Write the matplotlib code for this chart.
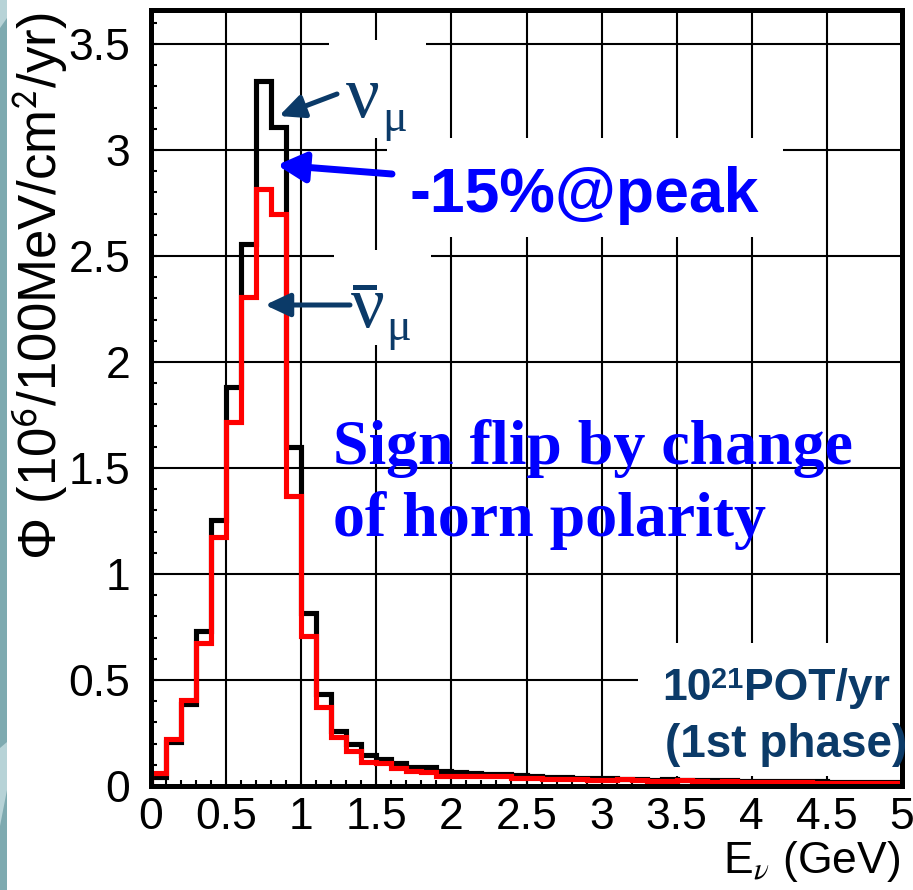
import numpy as np
import matplotlib
matplotlib.use("Agg")
import matplotlib.pyplot as plt
from matplotlib.patches import Rectangle, Polygon

# ---------------- data ----------------
bin_edges = np.round(np.arange(0, 5.0001, 0.1), 2)
numu = [0.044, 0.209, 0.387, 0.731, 1.255, 1.88, 2.556, 3.325, 3.11, 1.60,
        0.815, 0.434, 0.261, 0.198, 0.146, 0.127, 0.108, 0.091, 0.088, 0.072,
        0.067, 0.060, 0.058, 0.056, 0.050, 0.047, 0.044, 0.042, 0.040, 0.036,
        0.038, 0.034, 0.032, 0.030, 0.031, 0.029, 0.028, 0.027, 0.026, 0.025,
        0.025, 0.024, 0.023, 0.022, 0.022, 0.021, 0.020, 0.020, 0.019, 0.019]
anumu = [0.060, 0.222, 0.406, 0.673, 1.176, 1.715, 2.305, 2.816, 2.70, 1.368,
         0.706, 0.371, 0.233, 0.167, 0.115, 0.107, 0.083, 0.071, 0.065, 0.049,
         0.049, 0.047, 0.045, 0.048, 0.040, 0.037, 0.035, 0.032, 0.034, 0.030,
         0.029, 0.031, 0.027, 0.025, 0.024, 0.026, 0.022, 0.021, 0.024, 0.020,
         0.019, 0.018, 0.020, 0.017, 0.016, 0.016, 0.015, 0.015, 0.014, 0.014]
xticks = [0, 0.5, 1, 1.5, 2, 2.5, 3, 3.5, 4, 4.5, 5]
xticklabels = ["0", "0.5", "1", "1.5", "2", "2.5", "3", "3.5", "4", "4.5", "5"]
yticks = [0, 0.5, 1, 1.5, 2, 2.5, 3, 3.5]
yticklabels = ["0", "0.5", "1", "1.5", "2", "2.5", "3", "3.5"]

# ---------------- layout ----------------
plt.rcParams["mathtext.fontset"] = "stix"
SANS = ["Liberation Sans", "DejaVu Sans"]
SERIF = ["Liberation Serif", "DejaVu Serif"]
DARK = "#0b3a68"
BLUE = "#0000ff"

W, H = 913, 890
L, R, B, T = 151, 902, 786, 10
YS = 212.0  # pixels per unit on y
fig = plt.figure(figsize=(W / 100, H / 100), dpi=100)
fig.patch.set_facecolor("white")

# slide background strip on the left
fig.patches.append(Rectangle((0, 0), 7 / W, 1, transform=fig.transFigure,
                             facecolor="#7eaab0", edgecolor="none"))
fig.patches.append(Polygon([(0, 1), (7 / W, 1), (7 / W, 1 - 18 / H), (0, 1 - 28 / H)],
                           closed=True, transform=fig.transFigure,
                           facecolor="#b7d3d7", edgecolor="none"))
fig.patches.append(Polygon([(0, 1 - 748 / H), (7 / W, 1 - 742 / H), (7 / W, 1 - 790 / H), (0, 1 - 826 / H)],
                           closed=True, transform=fig.transFigure,
                           facecolor="#b7d3d7", edgecolor="none"))

ax = fig.add_axes([L / W, 1 - B / H, (R - L) / W, (B - T) / H])
ax.set_xlim(0, 5)
ax.set_ylim(0, (B - T) / YS)


def P(px, py):
    """pixel position -> data coordinates (for annotations only)"""
    return ((px - L) / (R - L) * 5.0, (B - py) / YS)


ax.set_axisbelow(True)
ax.grid(True, which="major", color="black", lw=1.5)

# white boxes behind annotation texts (hide the grid there)
def wbox(px0, py0, px1, py1, color="white"):
    x0, y0 = P(px0, py1)
    x1, y1 = P(px1, py0)
    ax.add_patch(Rectangle((x0, y0), x1 - x0, y1 - y0, facecolor=color,
                           edgecolor="none", zorder=1))

wbox(329, 40, 426, 138)
wbox(387, 138, 783, 237)
wbox(334, 250, 431, 345)
wbox(638, 643, 905, 776)

# histograms
ax.stairs(numu, bin_edges, baseline=0, color="black", lw=3.7, zorder=2,
          joinstyle="miter")
ax.stairs(anumu, bin_edges, baseline=0, color="#ff0000", lw=3.7, zorder=2.1,
          joinstyle="miter")

# axes / ticks
for s in ax.spines.values():
    s.set_linewidth(3.6)
    s.set_zorder(3)
ax.set_xticks(xticks)
ax.set_xticklabels(xticklabels)
ax.set_yticks(yticks)
ax.set_yticklabels(yticklabels)
ax.set_xticks(np.arange(0, 5.0001, 0.1), minor=True)
ax.set_yticks(np.arange(0, 3.6001, 0.1), minor=True)
ax.tick_params(which="both", direction="in", top=False, right=False,
               width=1.5, length=4.5, color="black")
ax.tick_params(axis="x", which="major", pad=8, labelsize=32)
ax.tick_params(axis="y", which="major", pad=15, labelsize=32)
for lab in ax.get_xticklabels() + ax.get_yticklabels():
    lab.set_family(SANS)

# axis titles
fig.text(40 / W, 1 - 13 / H, r"Φ (10$^{\mathsf{6}}$/100MeV/cm$^{\mathsf{2}}$/yr)",
         rotation=90, ha="center", va="top", fontsize=38, family=SANS)
fig.text(900 / W, 1 - 873 / H, r"E$_{\nu}$ (GeV)", ha="right", va="baseline",
         fontsize=32, family=SANS)

# neutrino labels (upright Greek, serif)
ax.text(*P(346, 117), "ν", fontsize=54, color=DARK, family=SERIF,
        ha="left", va="baseline", zorder=4)
ax.text(*P(382, 131), "μ", fontsize=33, color=DARK, family=SERIF,
        ha="left", va="baseline", zorder=4)
ax.text(*P(351, 327), "ν", fontsize=54, color=DARK, family=SERIF,
        ha="left", va="baseline", zorder=4)
ax.text(*P(386, 340), "μ", fontsize=33, color=DARK, family=SERIF,
        ha="left", va="baseline", zorder=4)
bx0, by0 = P(353, 290)
bx1, by1 = P(377, 285)
ax.add_patch(Rectangle((bx0, by0), bx1 - bx0, by1 - by0, facecolor=DARK,
                       edgecolor="none", zorder=4))

ax.text(*P(409, 212), "-15%@peak", fontsize=45, fontweight="bold", color=BLUE,
        family=SANS, ha="left", va="baseline", zorder=4)
ax.text(*P(333, 536), "Sign flip by change\nof horn polarity", fontsize=46,
        fontweight="bold", color=BLUE, family=SERIF, ha="left", va="baseline",
        linespacing=1.29, zorder=4)

# beam exposure note
t10 = fig.text(662 / W, 1 - 700 / H, "10", fontsize=32, fontweight="bold",
               color=DARK, family=SANS, ha="left", va="baseline")
t21 = fig.text(0, 0, "21", fontsize=21, fontweight="bold", color=DARK,
               family=SANS, ha="left", va="baseline")
fig.canvas.draw()
bb = t10.get_window_extent()
t21.set_position((bb.x1 / W, (bb.y0 + 7 + 14) / H))
fig.canvas.draw()
bb21 = t21.get_window_extent()
fig.text(bb21.x1 / W, 1 - 700 / H, "POT/yr", fontsize=32, fontweight="bold",
         color=DARK, family=SANS, ha="left", va="baseline")
fig.text(907 / W, 1 - 757 / H, "(1st phase)", fontsize=33, fontweight="bold",
         color=DARK, family=SANS, ha="right", va="baseline")


def arrow(tail, tip, color, lw, hl, hw):
    ax.annotate("", xy=P(*tip), xytext=P(*tail),
                arrowprops=dict(arrowstyle=f"-|>,head_length={hl},head_width={hw}",
                                color=color, lw=lw, shrinkA=0, shrinkB=0,
                                mutation_scale=1),
                zorder=4)

arrow((337, 94), (279, 116), DARK, 3.6, 15, 7)
arrow((392, 174), (277, 165), BLUE, 5.0, 17, 9)
arrow((350, 305), (265, 305), DARK, 3.6, 15, 7)

fig.savefig("out.png", dpi=100, facecolor="white")
